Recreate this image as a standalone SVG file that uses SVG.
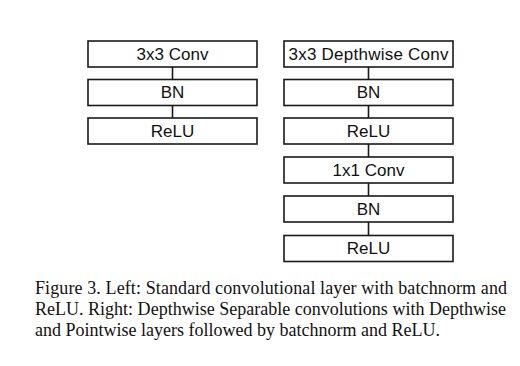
<svg xmlns="http://www.w3.org/2000/svg" width="520" height="366" viewBox="0 0 520 366">
<style>
.box rect{fill:#fff;stroke:#1a1a1a;stroke-width:1.6}
.box text{font-family:"Liberation Sans",Arial,sans-serif;font-size:17px;fill:#111;text-anchor:middle}
.conn line{stroke:#1a1a1a;stroke-width:1.6}
.cap{font-family:"Liberation Serif","Times New Roman",serif;font-size:18px;fill:#111}
</style>
<rect width="520" height="366" fill="#fff"/>
<g class="conn">
<line x1="172.5" y1="67" x2="172.5" y2="79.5"/>
<line x1="172.5" y1="105.5" x2="172.5" y2="118"/>
<line x1="368.5" y1="67" x2="368.5" y2="79.5"/>
<line x1="368.5" y1="105.5" x2="368.5" y2="118"/>
<line x1="368.5" y1="144" x2="368.5" y2="157"/>
<line x1="368.5" y1="183" x2="368.5" y2="196"/>
<line x1="368.5" y1="222" x2="368.5" y2="235.5"/>
</g>
<g id="l1" class="box"><rect x="88" y="41" width="169" height="26"/><text x="172.5" y="59.8">3x3 Conv</text></g>
<g id="l2" class="box"><rect x="88" y="79.5" width="169" height="26"/><text x="172.5" y="98.3">BN</text></g>
<g id="l3" class="box"><rect x="88" y="118" width="169" height="26"/><text x="172.5" y="136.8">ReLU</text></g>
<g id="r1" class="box"><rect x="284" y="41" width="169" height="26"/><text x="368.5" y="59.8" textLength="160" lengthAdjust="spacing">3x3 Depthwise Conv</text></g>
<g id="r2" class="box"><rect x="284" y="79.5" width="169" height="26"/><text x="368.5" y="98.3">BN</text></g>
<g id="r3" class="box"><rect x="284" y="118" width="169" height="26"/><text x="368.5" y="136.8">ReLU</text></g>
<g id="r4" class="box"><rect x="284" y="157" width="169" height="26"/><text x="368.5" y="175.8">1x1 Conv</text></g>
<g id="r5" class="box"><rect x="284" y="196" width="169" height="26"/><text x="368.5" y="214.8">BN</text></g>
<g id="r6" class="box"><rect x="284" y="235.5" width="169" height="26"/><text x="368.5" y="254.3">ReLU</text></g>
<text class="cap" x="35" y="293.7" textLength="472" lengthAdjust="spacing">Figure 3. Left: Standard convolutional layer with batchnorm and</text>
<text class="cap" x="35" y="315.3" textLength="471" lengthAdjust="spacing">ReLU. Right: Depthwise Separable convolutions with Depthwise</text>
<text class="cap" x="35" y="336.3">and Pointwise layers followed by batchnorm and ReLU.</text>
</svg>
